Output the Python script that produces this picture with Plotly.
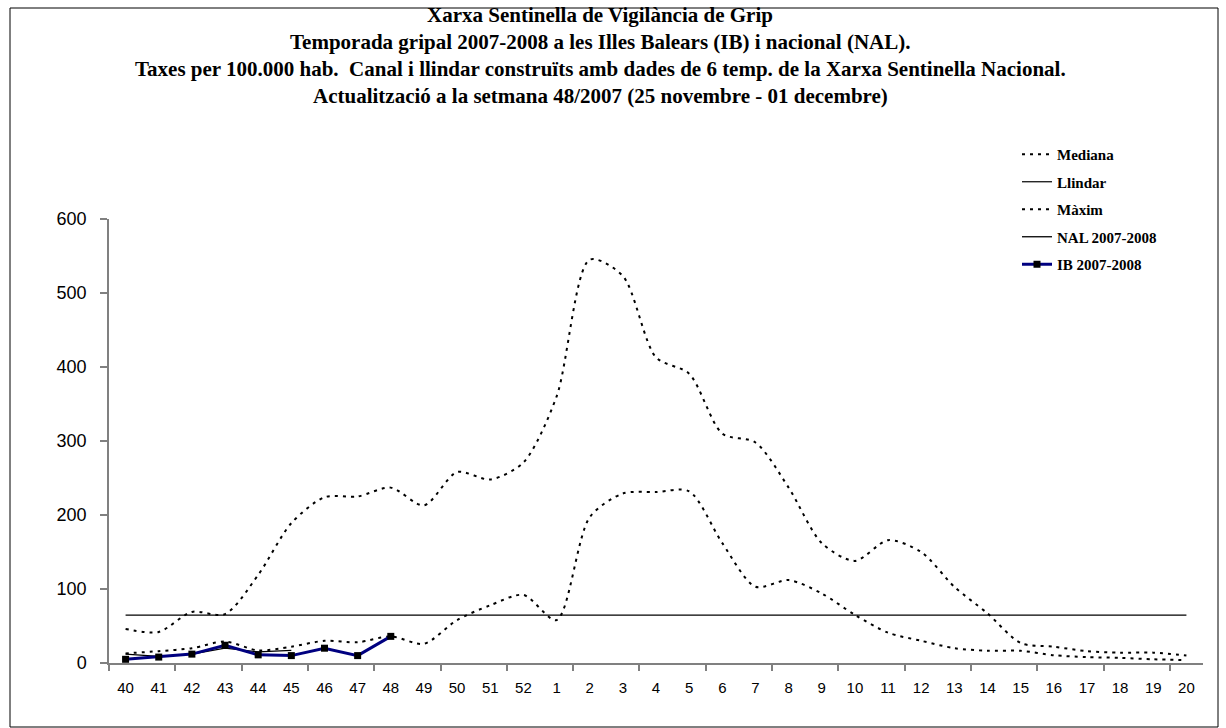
import plotly.graph_objects as go

# ---------------- data ----------------
weeks = ["40", "41", "42", "43", "44", "45", "46", "47", "48", "49", "50", "51", "52",
         "1", "2", "3", "4", "5", "6", "7", "8", "9", "10", "11", "12", "13", "14",
         "15", "16", "17", "18", "19", "20"]
mediana = [13, 16, 20, 29, 17, 22, 30, 28, 36, 26, 58, 78, 92,
           58, 197, 229, 231, 232, 162, 103, 112, 94, 65, 41, 30, 20, 16.5,
           16.5, 10.5, 8, 7, 5, 4]
maxim = [46, 42, 69, 66, 119, 189, 224, 225, 237, 213, 258, 248, 271,
         360, 545, 523, 413, 391, 310, 298, 237, 162, 138, 166, 150, 103, 67,
         27, 22, 16, 14, 14, 10]
llindar_value = 64.7
llindar = [llindar_value] * len(weeks)
nal = [12, 9, 12, 20, 15, 17]
ib = [5, 8, 12, 24, 11, 10, 20, 10, 36]

title_lines = [
    "Xarxa Sentinella de Vigilància de Grip",
    "Temporada gripal 2007-2008 a les Illes Balears (IB) i nacional (NAL).",
    "Taxes per 100.000 hab.  Canal i llindar construïts amb dades de 6 temp. de la Xarxa Sentinella Nacional.",
    "Actualització a la setmana 48/2007 (25 novembre - 01 decembre)",
]

# ---------------- layout geometry ----------------
W, H = 1226, 728
L, R, T, B = 109, 1203, 219, 663
PW, PH = R - L, B - T


def px2x(px):
    return (px - L) / PW


def py2y(py):
    return (B - py) / PH


xidx = list(range(len(weeks)))
SERIF = "Liberation Serif"
SANS = "Liberation Sans"
DOT = "3px,5px"

fig = go.Figure()
fig.add_trace(go.Scatter(x=xidx, y=mediana, name="Mediana", mode="lines",
                         line=dict(color="black", width=2, dash=DOT, shape="spline", smoothing=0.8),
                         legendgroup="a"))
fig.add_trace(go.Scatter(x=xidx, y=llindar, name="Llindar", mode="lines",
                         line=dict(color="black", width=1.2), legendgroup="b"))
fig.add_trace(go.Scatter(x=xidx, y=maxim, name="Màxim", mode="lines",
                         line=dict(color="black", width=2, dash=DOT, shape="spline", smoothing=0.8),
                         legendgroup="c"))
fig.add_trace(go.Scatter(x=xidx[:len(nal)], y=nal, name="NAL 2007-2008", mode="lines",
                         line=dict(color="black", width=1.3), legendgroup="d"))
fig.add_trace(go.Scatter(x=xidx[:len(ib)], y=ib, name="IB 2007-2008", mode="lines+markers",
                         line=dict(color="#000080", width=3),
                         marker=dict(symbol="square", size=7, color="black"),
                         legendgroup="e"))

annotations = []
for i, line in enumerate(title_lines):
    annotations.append(dict(
        text="<b>" + line + "</b>", xref="paper", yref="paper",
        x=px2x(600), y=py2y(15 + 27 * i), xanchor="center", yanchor="middle",
        showarrow=False, font=dict(family=SERIF, size=21, color="black")))

fig.update_layout(
    width=W, height=H,
    margin=dict(l=L, r=W - R, t=T, b=H - B, pad=0),
    paper_bgcolor="white", plot_bgcolor="white",
    showlegend=True,
    legend=dict(x=px2x(1017), y=py2y(138), xanchor="left", yanchor="top",
                font=dict(family=SERIF, size=15, color="black", weight="bold"),
                traceorder="grouped", tracegroupgap=5, bgcolor="rgba(0,0,0,0)"),
    annotations=annotations,
    shapes=[dict(type="rect", xref="paper", yref="paper",
                 x0=px2x(10), x1=px2x(1218), y0=py2y(727), y1=py2y(8),
                 line=dict(color="black", width=1), fillcolor="rgba(0,0,0,0)", layer="below")],
    xaxis=dict(range=[-0.5, len(weeks) - 0.5], tickmode="array", tickvals=xidx, ticktext=weeks,
               ticks="", showline=True, linecolor="#808080", linewidth=1.5,
               showgrid=False, zeroline=False,
               tickfont=dict(family=SANS, size=15, color="black"),
               ticklabelstandoff=10,
               minor=dict(tickmode="array", tickvals=[i - 0.5 for i in range(0, len(weeks), 2)],
                          ticks="outside", ticklen=6, tickcolor="#808080", tickwidth=1.5, showgrid=False)),
    yaxis=dict(range=[0, 600], tickmode="linear", tick0=0, dtick=100,
               ticks="outside", ticklen=7, tickcolor="#808080", tickwidth=1.5,
               showline=True, linecolor="#808080", linewidth=1.5,
               showgrid=False, zeroline=False,
               tickfont=dict(family=SANS, size=18, color="black"),
               ticklabelstandoff=10),
)

fig.write_html("out.html", config={"displayModeBar": False},
               post_script="document.body.style.margin='0px';")
